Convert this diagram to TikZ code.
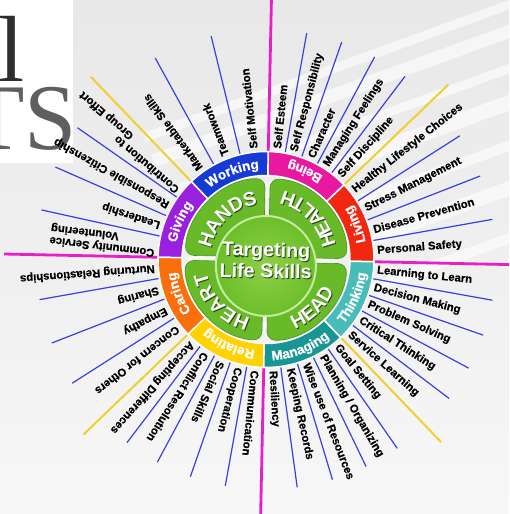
\documentclass[tikz,border=0pt]{standalone}
\usepackage{fontspec}
\setmainfont{Liberation Sans}
\newfontfamily\logofont{Liberation Serif}
\newfontfamily\heavyfont{Liberation Sans}[BoldFeatures={FakeBold=0.6}]
\usetikzlibrary{decorations.text}

\definecolor{cWork}{RGB}{22,58,214}
\definecolor{cBeing}{RGB}{232,24,160}
\definecolor{cLiving}{RGB}{240,40,18}
\definecolor{cThink}{RGB}{72,188,184}
\definecolor{cManage}{RGB}{24,150,148}
\definecolor{cRelate}{RGB}{255,210,0}
\definecolor{cCare}{RGB}{250,110,12}
\definecolor{cGive}{RGB}{152,32,222}
\definecolor{cPetal}{RGB}{104,186,40}
\definecolor{cPetalEdge}{RGB}{72,150,30}
\definecolor{cCenterIn}{RGB}{142,208,70}
\definecolor{cCenterOut}{RGB}{108,190,42}
\definecolor{cRim}{RGB}{196,234,160}
\definecolor{cShadow}{RGB}{40,70,20}
\definecolor{cBlueLine}{RGB}{58,64,220}
\definecolor{cYelLine}{RGB}{240,208,48}
\definecolor{cPinkLine}{RGB}{232,30,200}
\definecolor{cBgTop}{RGB}{232,232,232}
\definecolor{cBgBot}{RGB}{247,247,247}
\definecolor{cLogoL}{RGB}{45,45,45}
\definecolor{cLogoTS}{RGB}{95,95,95}

\newcommand\lblfont{\heavyfont\fontsize{11.3}{12.2}\selectfont\bfseries}
\newcommand\ringfont{\heavyfont\fontsize{13.5}{14}\selectfont\bfseries\color{white}}
\newcommand\petalfont{\fontsize{19.5}{20}\selectfont\bfseries\color{white}}
\newcommand\petalshade{\fontsize{19.5}{20}\selectfont\bfseries\color{cShadow}}
% start angle, end angle, radius, format, text, shift
\newcommand\arctext[6]{\path[shift={#6},decorate,decoration={text along path,text align=center,text={|#4|#5}}] (#1:#3) arc[start angle=#1,end angle=#2,radius=#3];}

\tikzset{
  lbl/.style={font=\lblfont, inner sep=0pt, anchor=west, text=black, align=right},
  blueline/.style={cBlueLine, line width=1.2pt},
  yelline/.style={cYelLine, line width=2pt},
  pinkline/.style={cPinkLine, line width=2.8pt},
  seg/.style={draw=white, line width=1.5pt},
  petal/.style={fill=cPetal, draw=cPetalEdge, line width=0.6pt, rounded corners=9pt},
  centertxt/.style={font=\fontsize{19.7}{20}\selectfont\bfseries, inner sep=0pt, anchor=base},
}

\begin{document}
\begin{tikzpicture}[x=1pt,y=1pt]
\useasboundingbox (0,0) rectangle (509,514);
\clip (0,0) rectangle (509,514);
% background
\shade[top color=cBgTop, bottom color=cBgBot] (0,0) rectangle (509,514);
\begin{scope}[rotate around={20:(509,514)}]
  \foreach \y/\w in {505/9, 478/13, 445/9, 410/15, 372/10, 330/14, 285/10}
    \fill[white, opacity=.6] (120,\y) rectangle (600,\y+\w);
\end{scope}
% logo fragment
\fill[white] (0,351) rectangle (73,514);
\begin{scope}
  \clip (0,351) rectangle (73,514);
  \node[font=\logofont\fontsize{94}{94}\selectfont, text=cLogoL, inner sep=0pt, anchor=base west] (logol) at (-2,432) {l};
  \node[font=\logofont\fontsize{94}{94}\selectfont, text=cLogoTS, inner sep=0pt, anchor=base west] (logots) at (-33,364) {TS};
\end{scope}

\begin{scope}[shift={(266,254.5)}, rotate=-1.2, transform shape]
  % spokes
  \foreach \a in {81,72,63,54,33.75,22.5,11.25,-9,-18,-27,-36,-54,-63,-72,-81,-99,-108,-117,-126,-146.25,-157.5,-168.75,168.75,157.5,146.25,120,105}
    \draw[blueline] (\a:109) -- (\a:230);
  \foreach \a in {45,135,225,315}
    \draw[yelline] (\a:109) -- (\a:253);
  \foreach \a in {0,90,180,270}
    \draw[pinkline] (\a:107) -- (\a:262);

  % labels
  \foreach \a/\t [count=\i] in {
    85.5/Self Esteem, 76.5/Self Responsibility, 67.5/Character, 58.5/Managing Feelings, 49.5/Self Discipline,
    39.375/Healthy Lifestyle Choices, 28.125/Stress Management, 16.875/Disease Prevention, 5.625/Personal Safety,
    -4.5/Learning to Learn, -13.5/Decision Making, -22.5/Problem Solving, -31.5/Critical Thinking, -40.5/Service Learning,
    -49.5/Goal Setting, -58.5/{Planning / Organizing}, -67.5/Wise use of Resources, -76.5/Keeping Records, -85.5/Resiliency,
    -94.5/Communication, -103.5/Cooperation, -112.5/Social Skills, -121.5/Conflict Resolution, -130.5/Accepting Differences,
    -140.625/Concern for Others, -151.875/Empathy, -163.125/Sharing, -174.375/Nurturing Relastionships,
    174.375/{Community Service\\Volunteering}, 163.125/Leadership, 151.875/Responsible Citizenship,
    127.5/Marketable Skills, 112.5/Teamwork, 97.5/Self Motivation}
    \node[lbl, rotate=\a] (lab\i) at (\a:111.5) {\t};
  \begin{scope}[rotate=140.625]
    \node[lbl] (contrib1) at (111.5,6) {Contribution to};
    \node[lbl] (contrib2) at (181,-6) {Group Effort};
  \end{scope}

  % ring segments
  \foreach \s/\c [evaluate=\s as \e using \s+45] in {0/cLiving, 45/cBeing, 90/cWork, 135/cGive, 180/cCare, 225/cRelate, 270/cManage, 315/cThink}
    \filldraw[seg, fill=\c] (\s:84) arc[start angle=\s, end angle=\e, radius=84] -- (\e:108) arc[start angle=\e, end angle=\s, radius=108] -- cycle;

  % petals
  \foreach \s [evaluate=\s as \p using \s+1.77, evaluate=\s as \q using \s+88.23, evaluate=\s as \m using \s+45] in {0,90,180,270}
    \path[petal] (\m:3.5) -- (\p:81) arc[start angle=\p, end angle=\q, radius=81] -- cycle;

  % center disc
  \fill[inner color=cCenterIn, outer color=cCenterOut] (0,-6.5) circle (50);
  \draw[cRim, line width=2pt] (0,-6.5) circle (50);

  % ring texts
  \arctext{145}{80}{91}{\ringfont}{Working}{(0,0)}
  \arctext{190}{125}{91}{\ringfont}{Giving}{(0,0)}
  \arctext{235}{170}{91}{\ringfont}{Caring}{(0,0)}
  \arctext{280}{215}{91}{\ringfont}{Relating}{(0,0)}
  \arctext{35}{100}{101}{\ringfont}{Being}{(0,0)}
  \arctext{-10}{55}{101}{\ringfont}{Living}{(0,0)}
  \arctext{-55}{10}{101}{\ringfont}{Thinking}{(0,0)}
  \arctext{-100}{-35}{101}{\ringfont}{Managing}{(0,0)}

  % petal texts (shadow, then white)
  \arctext{180}{90}{56}{\petalshade}{HANDS}{(1,-1)}
  \arctext{0}{90}{71}{\petalshade}{HEALTH}{(1,-1)}
  \arctext{-90}{0}{75}{\petalshade}{HEAD}{(1,-1)}
  \arctext{-90}{-180}{61}{\petalshade}{HEART}{(1,-1)}
  \arctext{180}{90}{56}{\petalfont}{HANDS}{(0,0)}
  \arctext{0}{90}{71}{\petalfont}{HEALTH}{(0,0)}
  \arctext{-90}{0}{75}{\petalfont}{HEAD}{(0,0)}
  \arctext{-90}{-180}{61}{\petalfont}{HEART}{(0,0)}

  % center title
  \node[centertxt, text=cShadow] (tgtS1) at (1,1.8) {Targeting};
  \node[centertxt, text=cShadow] (tgtS2) at (1,-19.5) {Life Skills};
  \node[centertxt, text=white] (tgt1) at (0,2.8) {Targeting};
  \node[centertxt, text=white] (tgt2) at (0,-18.5) {Life Skills};
\end{scope}
\end{tikzpicture}
\end{document}
